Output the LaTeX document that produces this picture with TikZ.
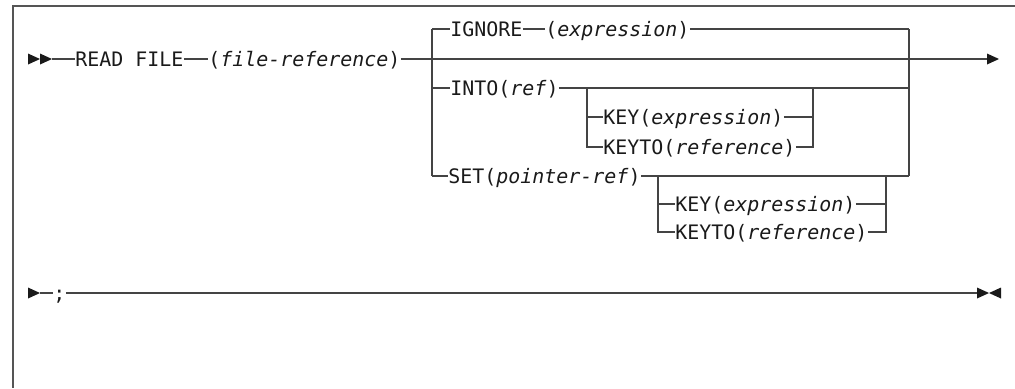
\documentclass[tikz,border=0pt]{standalone}
\usepackage{fontspec}
\setmonofont{DejaVu Sans Mono}
\usepackage{xcolor}
\usepackage{tikz}
\usetikzlibrary{positioning}
\definecolor{railgray}{HTML}{444444}
\definecolor{framegray}{HTML}{555555}
\definecolor{tipblack}{HTML}{1A1A1A}
\newcommand{\synfont}{\ttfamily\fontsize{9.97pt}{12pt}\selectfont}
\newcommand{\synarg}[1]{(\textit{#1})}
% filled terminator glyphs, left edge at the given coordinate
\newcommand{\rtip}[1]{\fill[tipblack, shift={(#1)}] (0,-5.5) -- (12,0) -- (0,5.5) -- cycle;}
\newcommand{\ltip}[1]{\fill[tipblack, shift={(#1)}] (12,-5.5) -- (0,0) -- (12,5.5) -- cycle;}

\begin{document}
\begin{tikzpicture}[x=0.5pt, y=-0.5pt,
    rail/.style={line width=0.9pt, railgray},
    kw/.style={font=\synfont, text=tipblack, inner sep=0pt, anchor=west,
               text height=7.27pt, text depth=0pt}]
    \useasboundingbox (0,0) rectangle (1015,388);

    % Frame (cut off at right and bottom)
    \draw[line width=0.75pt, framegray] (1015,6) -- (13,6) -- (13,388);

    % Main statement
    \coordinate (start) at (28,59);
    \coordinate (st2) at (40,59);
    \coordinate (stend) at (52,59);
    \node[kw] (rd) at (75,59) {READ FILE};
    \node[kw] (fref) at (208,59) {\synarg{file-reference}};
    \coordinate (endtip) at (987,59);
    \rtip{start}
    \rtip{st2}
    \draw[rail] (stend) -- (rd.west);
    \draw[rail] (rd.east) -- (fref.west);
    \draw[rail] (fref.east) -- (endtip);
    \rtip{endtip}

    % Choice block
    \coordinate (bl1) at (432,29);
    \coordinate (bl2) at (432,88);
    \coordinate (bl3) at (432,176);
    \coordinate (br1) at (909,29);
    \coordinate (br2) at (909,88);
    \coordinate (br3) at (909,176);
    \draw[rail] (bl1) -- (bl3);
    \draw[rail] (br1) -- (br3);

    \node[kw] (ign) at (450,29) {IGNORE};
    \node[kw] (iexp) at (545,29) {\synarg{expression}};
    \draw[rail] (bl1) -- (ign.west);
    \draw[rail] (ign.east) -- (iexp.west);
    \draw[rail] (iexp.east) -- (br1);

    \node[kw] (into) at (450,88) {INTO\synarg{ref}};
    \draw[rail] (bl2) -- (into.west);
    \draw[rail] (into.east) -- (br2);

    \node[kw] (set) at (448,176) {SET\synarg{pointer-ref}};
    \draw[rail] (bl3) -- (set.west);
    \draw[rail] (set.east) -- (br3);

    % INTO options
    \coordinate (il1) at (587,88);
    \coordinate (il2) at (587,117);
    \coordinate (il3) at (587,147);
    \coordinate (ir1) at (813,88);
    \coordinate (ir2) at (813,117);
    \coordinate (ir3) at (813,147);
    \node[kw] (key1) at (603,117) {KEY\synarg{expression}};
    \node[kw] (keyto1) at (603,147) {KEYTO\synarg{reference}};
    \draw[rail] (il1) -- (il3) -- (keyto1.west);
    \draw[rail] (il2) -- (key1.west);
    \draw[rail] (key1.east) -- (ir2);
    \draw[rail] (keyto1.east) -- (ir3) -- (ir1);

    % SET options
    \coordinate (sl1) at (658,176);
    \coordinate (sl2) at (658,204);
    \coordinate (sl3) at (658,232);
    \coordinate (sr1) at (886,176);
    \coordinate (sr2) at (886,204);
    \coordinate (sr3) at (886,232);
    \node[kw] (key2) at (675,204) {KEY\synarg{expression}};
    \node[kw] (keyto2) at (675,232) {KEYTO\synarg{reference}};
    \draw[rail] (sl1) -- (sl3) -- (keyto2.west);
    \draw[rail] (sl2) -- (key2.west);
    \draw[rail] (key2.east) -- (sr2);
    \draw[rail] (keyto2.east) -- (sr3) -- (sr1);

    % Second line
    \coordinate (cont) at (28,293);
    \coordinate (contend) at (40,293);
    \node[kw] (semi) at (53,293) {;};
    \coordinate (stop) at (977,293);
    \coordinate (stop2) at (989,293);
    \rtip{cont}
    \draw[rail] (contend) -- (semi.west);
    \draw[rail] (semi.east) -- (stop);
    \rtip{stop}
    \ltip{stop2}

\end{tikzpicture}
\end{document}
